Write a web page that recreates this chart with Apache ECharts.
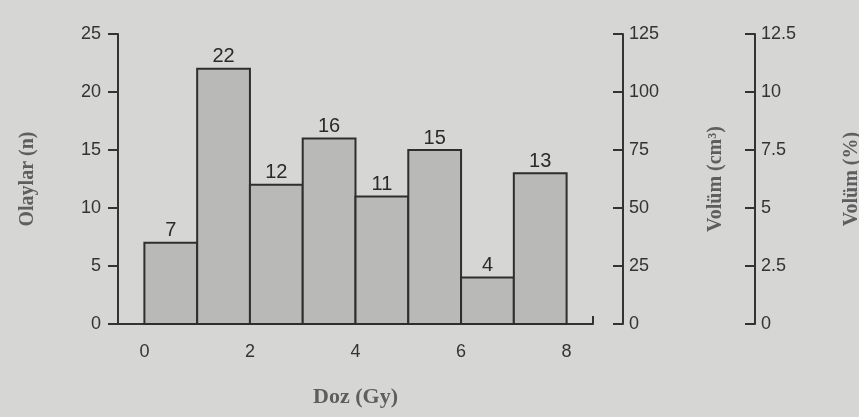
<!DOCTYPE html>
<html>
<head>
<meta charset="utf-8">
<script src="https://cdn.jsdelivr.net/npm/echarts@6/dist/echarts.min.js"></script>
<style>
html,body{margin:0;padding:0;background:#d6d6d4;}
#c{width:859px;height:417px;}
</style>
</head>
<body>
<div id="c"></div>
<script>
var binStart = [0, 1, 2, 3, 4, 5, 6, 7];
var binEnd = [1, 2, 3, 4, 5, 6, 7, 8];
var events = [7, 22, 12, 16, 11, 15, 4, 13];
var xTicks = [0, 2, 4, 6, 8];

var chart = echarts.init(document.getElementById('c'));
var data = binStart.map(function (s, i) { return [s, binEnd[i], events[i]]; });
var tickColor = '#333333';
var labelFont = { color: '#333333', fontSize: 18, fontFamily: 'Liberation Sans, Arial, sans-serif' };
var nameFont = { color: '#5e5e5e', fontSize: 20, fontWeight: 'bold', fontFamily: 'Liberation Serif, Times New Roman, serif' };

chart.setOption({
  backgroundColor: '#d6d6d4',
  animation: false,
  grid: { left: 118, right: 266, top: 34, bottom: 93, containLabel: false, outerBoundsMode: 'none' },
  xAxis: {
    type: 'value', min: -0.5, max: 8.5,
    name: 'Doz (Gy)', nameLocation: 'middle', nameGap: 62,
    nameTextStyle: Object.assign({}, nameFont, { fontSize: 22 }),
    axisLine: { show: true, onZero: false, lineStyle: { color: tickColor, width: 2 } },
    axisTick: { show: false },
    splitLine: { show: false },
    axisLabel: Object.assign({ customValues: xTicks, margin: 19 }, labelFont)
  },
  yAxis: [
    {
      type: 'value', min: 0, max: 25, interval: 5, position: 'left',
      name: 'Olaylar (n)', nameLocation: 'middle', nameGap: 80, nameRotate: 90,
      nameTextStyle: nameFont,
      axisLine: { show: true, onZero: false, lineStyle: { color: tickColor, width: 2 } },
      axisTick: { show: true, length: 10, lineStyle: { color: tickColor, width: 2 } },
      splitLine: { show: false },
      axisLabel: Object.assign({ margin: 17 }, labelFont)
    },
    {
      type: 'value', min: 0, max: 125, interval: 25, position: 'right', offset: 30,
      name: 'Volüm (cm³)', nameLocation: 'middle', nameGap: 83, nameRotate: 90,
      nameTextStyle: nameFont,
      axisLine: { show: true, onZero: false, lineStyle: { color: tickColor, width: 2 } },
      axisTick: { show: true, inside: true, length: 10, lineStyle: { color: tickColor, width: 2 } },
      splitLine: { show: false },
      axisLabel: Object.assign({ margin: 6 }, labelFont)
    },
    {
      type: 'value', min: 0, max: 12.5, interval: 2.5, position: 'right', offset: 162,
      name: 'Volüm (%)', nameLocation: 'middle', nameGap: 87, nameRotate: 90,
      nameTextStyle: nameFont,
      axisLine: { show: true, onZero: false, lineStyle: { color: tickColor, width: 2 } },
      axisTick: { show: true, inside: true, length: 10, lineStyle: { color: tickColor, width: 2 } },
      splitLine: { show: false },
      axisLabel: Object.assign({ margin: 6 }, labelFont)
    }
  ],
  series: [{
    type: 'custom',
    yAxisIndex: 0,
    data: data,
    encode: { x: [0, 1], y: 2 },
    renderItem: function (params, api) {
      var p0 = api.coord([api.value(0), 0]);
      var p1 = api.coord([api.value(1), api.value(2)]);
      return {
        type: 'group',
        children: [{
          type: 'rect',
          shape: { x: p0[0], y: p1[1], width: p1[0] - p0[0], height: p0[1] - p1[1] },
          style: { fill: '#b9b9b7', stroke: '#2e2e2e', lineWidth: 2 }
        }, {
          type: 'text',
          style: {
            text: String(api.value(2)),
            x: (p0[0] + p1[0]) / 2, y: p1[1] - 2,
            align: 'center', verticalAlign: 'bottom',
            fill: '#2a2a2a', fontSize: 20, fontFamily: 'Liberation Sans, Arial, sans-serif'
          }
        }]
      };
    }
  }]
});

// small upturn at the right end of the x axis
var end = chart.convertToPixel({ xAxisIndex: 0, yAxisIndex: 0 }, [8.5, 0]);
chart.setOption({
  graphic: [{
    type: 'line',
    shape: { x1: end[0], y1: end[1], x2: end[0], y2: end[1] - 8 },
    style: { stroke: tickColor, lineWidth: 2 }
  }]
});
</script>
</body>
</html>
